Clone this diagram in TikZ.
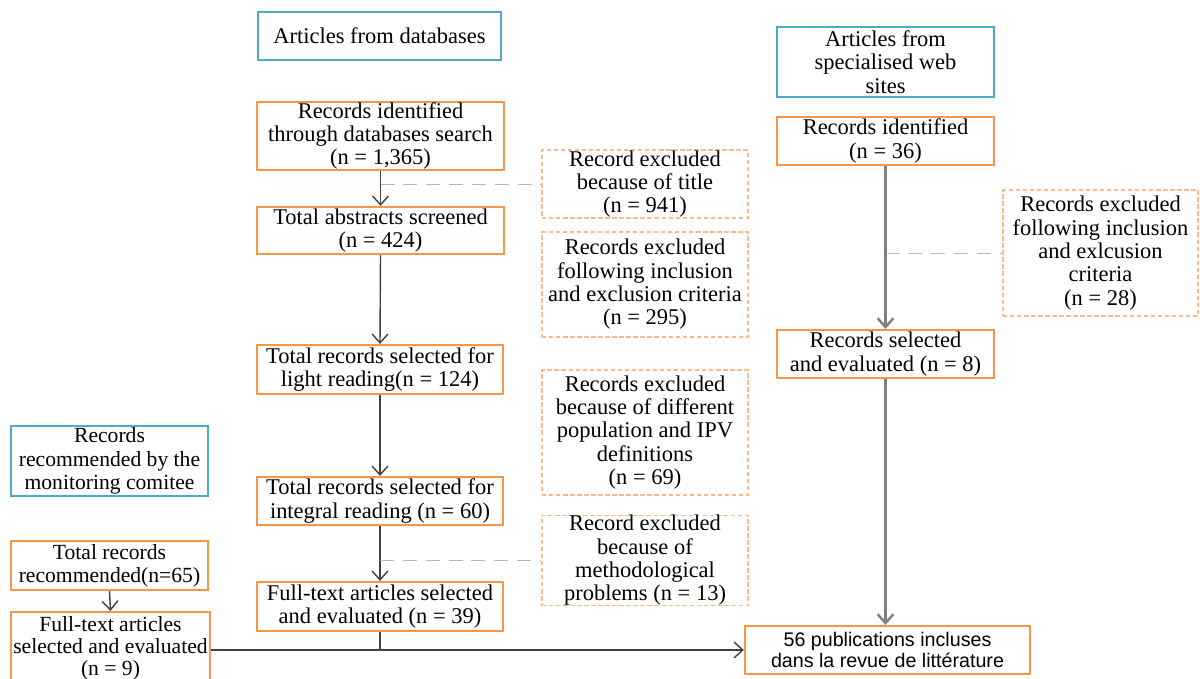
\documentclass[tikz,border=0pt]{standalone}
\usepackage{fontspec}
\setmainfont{Liberation Serif}
\newfontfamily\sansf{Liberation Sans}
\usetikzlibrary{arrows.meta}
\definecolor{boxorange}{HTML}{F79646}
\definecolor{boxblue}{HTML}{4BACC6}
\definecolor{dashorange}{HTML}{F9BB8C}
\definecolor{linegray}{HTML}{404040}
\definecolor{dashgray}{HTML}{B8B8B8}
\begin{document}
\begin{tikzpicture}[x=0.02cm,y=-0.02cm,
  txt/.style={font=\fontsize{12.8}{13.3}\selectfont, align=center, inner sep=0pt},
  bluebox/.style={txt, draw=boxblue, line width=1.1pt, fill=white},
  orangebox/.style={txt, draw=boxorange, line width=1.3pt, fill=white},
  dashbox/.style={txt, draw=dashorange, line width=0.7pt, dash pattern=on 2.5pt off 1.5pt},
  flow/.style={draw=linegray, line width=0.8pt, -{Straight Barb[length=5pt,width=9pt]}},
  flowthick/.style={draw=gray, line width=1.4pt, -{Straight Barb[length=5pt,width=9pt]}},
  dashconn/.style={draw=dashgray, line width=0.5pt, dash pattern=on 8pt off 5pt}]
\useasboundingbox (0,0) rectangle (1200,679);

% database column
\node[bluebox, minimum width=4.86cm, minimum height=0.96cm] (A1) at (379.5,36) {Articles from databases};
\node[orangebox, minimum width=4.94cm, minimum height=1.36cm] (B1) at (380.5,136) {Records identified\\through databases search\\(n = 1,365)};
\node[orangebox, minimum width=4.94cm, minimum height=0.94cm] (B2) at (380.5,230.5) {Total abstracts screened\\(n = 424)};
\node[orangebox, minimum width=4.92cm, minimum height=0.98cm] (B3) at (380,369.5) {Total records selected for\\light reading(n = 124)};
\node[orangebox, minimum width=4.92cm, minimum height=0.96cm] (B4) at (380,501) {Total records selected for\\integral reading (n = 60)};
\node[orangebox, minimum width=4.92cm, minimum height=0.98cm] (B5) at (380,606.5) {Full-text articles selected\\and evaluated (n = 39)};

% exclusion boxes
\node[dashbox, minimum width=4.12cm, minimum height=1.36cm] (E1) at (645,184) {Record excluded\\because of title\\(n = 941)};
\node[dashbox, minimum width=4.12cm, minimum height=2.10cm] (E2) at (645,284.5) {Records excluded\\following inclusion\\and exclusion criteria\\(n = 295)};
\node[dashbox, minimum width=4.12cm, minimum height=2.50cm] (E3) at (645,432.5) {Records excluded\\because of different\\population and IPV\\definitions\\(n = 69)};
\node[dashbox, minimum width=4.12cm, minimum height=1.74cm] (E4) at (645,560.5) {Record excluded\\because of\\methodological\\problems (n = 13)};

% web column
\node[bluebox, minimum width=4.34cm, minimum height=1.40cm] (W1) at (885.5,62) {Articles from\\specialised web\\sites};
\node[orangebox, minimum width=4.34cm, minimum height=0.96cm] (W2) at (885.5,141) {Records identified\\(n = 36)};
\node[dashbox, minimum width=3.90cm, minimum height=2.52cm] (W3) at (1100.5,253) {Records excluded\\following inclusion\\and exlcusion\\criteria\\(n = 28)};
\node[orangebox, minimum width=4.34cm, minimum height=0.96cm] (W4) at (885.5,354) {Records selected\\and evaluated (n = 8)};

% final box
\node[orangebox, font=\sansf\fontsize{11.2}{11.8}\selectfont, minimum width=5.70cm, minimum height=0.96cm] (F) at (887.5,650) {56 publications incluses\\dans la revue de littérature};

% left column
\node[bluebox, font=\fontsize{12.3}{13.3}\selectfont, minimum width=3.94cm, minimum height=1.40cm] (L1) at (109.5,461) {Records\\recommended by the\\monitoring comitee};
\node[orangebox, font=\fontsize{12.3}{13.3}\selectfont, minimum width=3.94cm, minimum height=0.98cm] (L2) at (109.5,565.5) {Total records\\recommended(n=65)};
\node[orangebox, font=\fontsize{12.3}{12.6}\selectfont, minimum width=3.98cm, minimum height=1.44cm] (L3) at (110.5,648) {Full-text articles\\selected and evaluated\\(n = 9)};

% connectors
\draw[flow] (B1.south) -- (B2.north);
\draw[flow] (B2.south) -- (B3.north);
\draw[flow] (B3.south) -- (B4.north);
\draw[flow] (B4.south) -- (B5.north);
\draw[flow] (L2.south) -- (L3.north);
\draw[flowthick] (W2.south) -- (W4.north);
\draw[flowthick] (W4.south) -- (W4.south |- F.north);
\draw[draw=linegray, line width=0.8pt] (B5.south) -- (B5.south |- F.west);
\draw[flow] (L3.east |- F.west) -- (F.west);

\draw[dashconn] (B1.south |- E1.west) -- (E1.west);
\draw[dashconn] (B4.south |- E4.west) -- (E4.west);
\draw[dashconn] (W2.south |- W3.west) -- (W3.west);
\end{tikzpicture}
\end{document}
